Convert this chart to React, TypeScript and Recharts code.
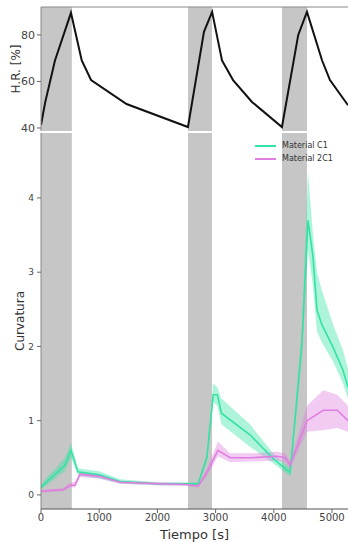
import {
  ComposedChart,
  Line,
  Area,
  XAxis,
  YAxis,
  ReferenceArea,
  ReferenceLine,
  Label,
  Legend,
} from "recharts";

// relative humidity cycle (top panel)
const hrTime = [0, 70, 240, 515, 700, 860, 1470, 2525, 2800, 2940, 3110, 3300, 3625, 4140, 4420, 4570, 4830, 4965, 5260, 5275];
const hrValue = [41.3, 50.8, 69, 89.5, 69, 60.6, 50.3, 40.4, 81.3, 89.9, 69, 60.6, 51.2, 40.4, 80, 89.9, 69, 60.6, 50.3, 49.8];

// Material C1 curvature: mean and spread
const c1Time = [0, 100, 275, 410, 515, 635, 1000, 1360, 2000, 2500, 2700, 2850, 2960, 3030, 3100, 3590, 4000, 4280, 4480, 4588, 4674, 4742, 4828, 5017, 5189, 5275];
const c1Mean = [0.1, 0.18, 0.3, 0.4, 0.6, 0.31, 0.27, 0.18, 0.15, 0.15, 0.15, 0.5, 1.35, 1.35, 1.1, 0.81, 0.48, 0.3, 2.0, 3.7, 3.2, 2.49, 2.29, 1.99, 1.68, 1.45];
const c1Low = [0.08, 0.13, 0.24, 0.32, 0.5, 0.26, 0.22, 0.15, 0.13, 0.13, 0.13, 0.45, 1.25, 1.2, 0.95, 0.65, 0.42, 0.25, 1.85, 3.3, 2.8, 2.2, 2.05, 1.8, 1.5, 1.3];
const c1High = [0.13, 0.24, 0.38, 0.5, 0.7, 0.36, 0.32, 0.21, 0.17, 0.17, 0.17, 0.55, 1.5, 1.45, 1.3, 0.95, 0.55, 0.36, 2.2, 4.35, 3.5, 3.0, 2.75, 2.3, 1.95, 1.7];

// Material 2C1 curvature: mean and spread
const c2Time = [0, 380, 500, 585, 670, 1000, 1360, 2000, 2500, 2700, 2850, 3040, 3250, 3600, 4050, 4200, 4280, 4570, 4850, 5090, 5275];
const c2Mean = [0.05, 0.07, 0.13, 0.13, 0.28, 0.25, 0.17, 0.15, 0.14, 0.12, 0.3, 0.6, 0.5, 0.5, 0.52, 0.5, 0.4, 1.0, 1.14, 1.14, 1.0];
const c2Low = [0.03, 0.05, 0.1, 0.1, 0.24, 0.22, 0.15, 0.13, 0.12, 0.1, 0.25, 0.52, 0.44, 0.45, 0.46, 0.44, 0.35, 0.85, 0.87, 0.9, 0.85];
const c2High = [0.07, 0.09, 0.16, 0.18, 0.31, 0.28, 0.19, 0.17, 0.16, 0.14, 0.35, 0.72, 0.56, 0.56, 0.58, 0.56, 0.45, 1.2, 1.41, 1.35, 1.2];

// humid phases shown as grey bands
const bandStart = [0, 2526, 4141];
const bandEnd = [530, 2938, 4570];

const xTicks = [0, 1000, 2000, 3000, 4000, 5000];
const hrTicks = [40, 60, 80];
const curvTicks = [0, 1, 2, 3, 4];

const X_MAX = 5275;
const HR_DOMAIN = [38.7, 92];
const CURV_DOMAIN = [-0.19, 4.875];

const GREEN = "#34e3a3";
const PINK = "#df7ee0";
const FONT = "DejaVu Sans, sans-serif";

const hrRows = hrTime.map((t, i) => ({ t, hr: hrValue[i] }));
const c1Rows = c1Time.map((t, i) => ({ t, mean: c1Mean[i], band: [c1Low[i], c1High[i]] }));
const c2Rows = c2Time.map((t, i) => ({ t, mean: c2Mean[i], band: [c2Low[i], c2High[i]] }));

const tickStyle = { fill: "#444", fontFamily: FONT };

const LegendBox = () => (
  <div style={{ fontFamily: FONT, fontSize: 8, color: "#333", lineHeight: "13px" }}>
    {[
      { name: "Material C1", color: GREEN },
      { name: "Material 2C1", color: PINK },
    ].map((item) => (
      <div key={item.name} style={{ display: "flex", alignItems: "center" }}>
        <span style={{ display: "inline-block", width: 21, height: 2, background: item.color, marginRight: 6 }} />
        <span>{item.name}</span>
      </div>
    ))}
  </div>
);

const App = () => {
  return (
    <div style={{ position: "absolute", left: 0, top: 0, width: 348, height: 542, background: "#fff" }}>
      <div style={{ position: "absolute", left: 0, top: 125 }}>
        <ComposedChart width={348} height={417} margin={{ top: 8, right: 0, bottom: 0, left: 0 }}>
          <XAxis
            dataKey="t"
            type="number"
            domain={[0, X_MAX]}
            allowDataOverflow
            ticks={xTicks}
            interval={0}
            height={33}
            tick={{ ...tickStyle, fontSize: 10 }}
            tickSize={4}
            tickMargin={1}
            tickLine={{ stroke: "#666" }}
            axisLine={{ stroke: "#555" }}
          >
            <Label
              value="Tiempo [s]"
              position="insideBottom"
              offset={3}
              style={{ fontFamily: FONT, fontSize: 13, fill: "#333" }}
            />
          </XAxis>
          <YAxis
            type="number"
            domain={CURV_DOMAIN}
            allowDataOverflow
            ticks={curvTicks}
            interval={0}
            width={41}
            tick={{ ...tickStyle, fontSize: 9 }}
            tickSize={4}
            tickMargin={3}
            tickLine={{ stroke: "#666" }}
            axisLine={{ stroke: "#888" }}
          >
            <Label
              value="Curvatura"
              angle={-90}
              position="insideLeft"
              offset={20}
              style={{ textAnchor: "middle", fontFamily: FONT, fontSize: 12, fill: "#333" }}
            />
          </YAxis>
          {bandStart.map((s, i) => (
            <ReferenceArea key={i} x1={s} x2={bandEnd[i]} fill="#c6c6c6" fillOpacity={1} stroke="none" />
          ))}
          <Area
            data={c1Rows}
            dataKey="band"
            type="linear"
            stroke="none"
            fill={GREEN}
            fillOpacity={0.4}
            isAnimationActive={false}
          />
          <Area
            data={c2Rows}
            dataKey="band"
            type="linear"
            stroke="none"
            fill={PINK}
            fillOpacity={0.4}
            isAnimationActive={false}
          />
          <Line
            data={c1Rows}
            dataKey="mean"
            name="Material C1"
            type="linear"
            stroke={GREEN}
            strokeWidth={1.6}
            dot={false}
            isAnimationActive={false}
          />
          <Line
            data={c2Rows}
            dataKey="mean"
            name="Material 2C1"
            type="linear"
            stroke={PINK}
            strokeWidth={1.6}
            dot={false}
            isAnimationActive={false}
          />
          <Legend
            layout="horizontal"
            verticalAlign="middle"
            align="center"
            content={() => <LegendBox />}
            wrapperStyle={{ top: 14, left: 255, width: 93, height: 30 }}
          />
        </ComposedChart>
      </div>
      <div style={{ position: "absolute", left: 0, top: 0 }}>
        <ComposedChart width={348} height={140} margin={{ top: 7, right: 0, bottom: 9, left: 0 }}>
          <XAxis
            dataKey="t"
            type="number"
            domain={[0, X_MAX]}
            allowDataOverflow
            ticks={xTicks}
            tick={false}
            tickLine={false}
            height={0}
            axisLine={{ stroke: "#888" }}
          />
          <YAxis
            type="number"
            domain={HR_DOMAIN}
            allowDataOverflow
            ticks={hrTicks}
            interval={0}
            width={41}
            tick={{ ...tickStyle, fontSize: 11 }}
            tickSize={4}
            tickMargin={2}
            tickLine={{ stroke: "#666" }}
            axisLine={{ stroke: "#888" }}
          >
            <Label
              value="H.R. [%]"
              angle={-90}
              position="insideLeft"
              offset={16}
              style={{ textAnchor: "middle", fontFamily: FONT, fontSize: 12, fill: "#333" }}
            />
          </YAxis>
          {bandStart.map((s, i) => (
            <ReferenceArea key={i} x1={s} x2={bandEnd[i]} fill="#c6c6c6" fillOpacity={1} stroke="none" />
          ))}
          <ReferenceLine y={HR_DOMAIN[1]} stroke="#888" />
          <Line
            data={hrRows}
            dataKey="hr"
            type="linear"
            stroke="#111"
            strokeWidth={2}
            dot={false}
            isAnimationActive={false}
          />
        </ComposedChart>
      </div>
    </div>
  );
};

export default App;
